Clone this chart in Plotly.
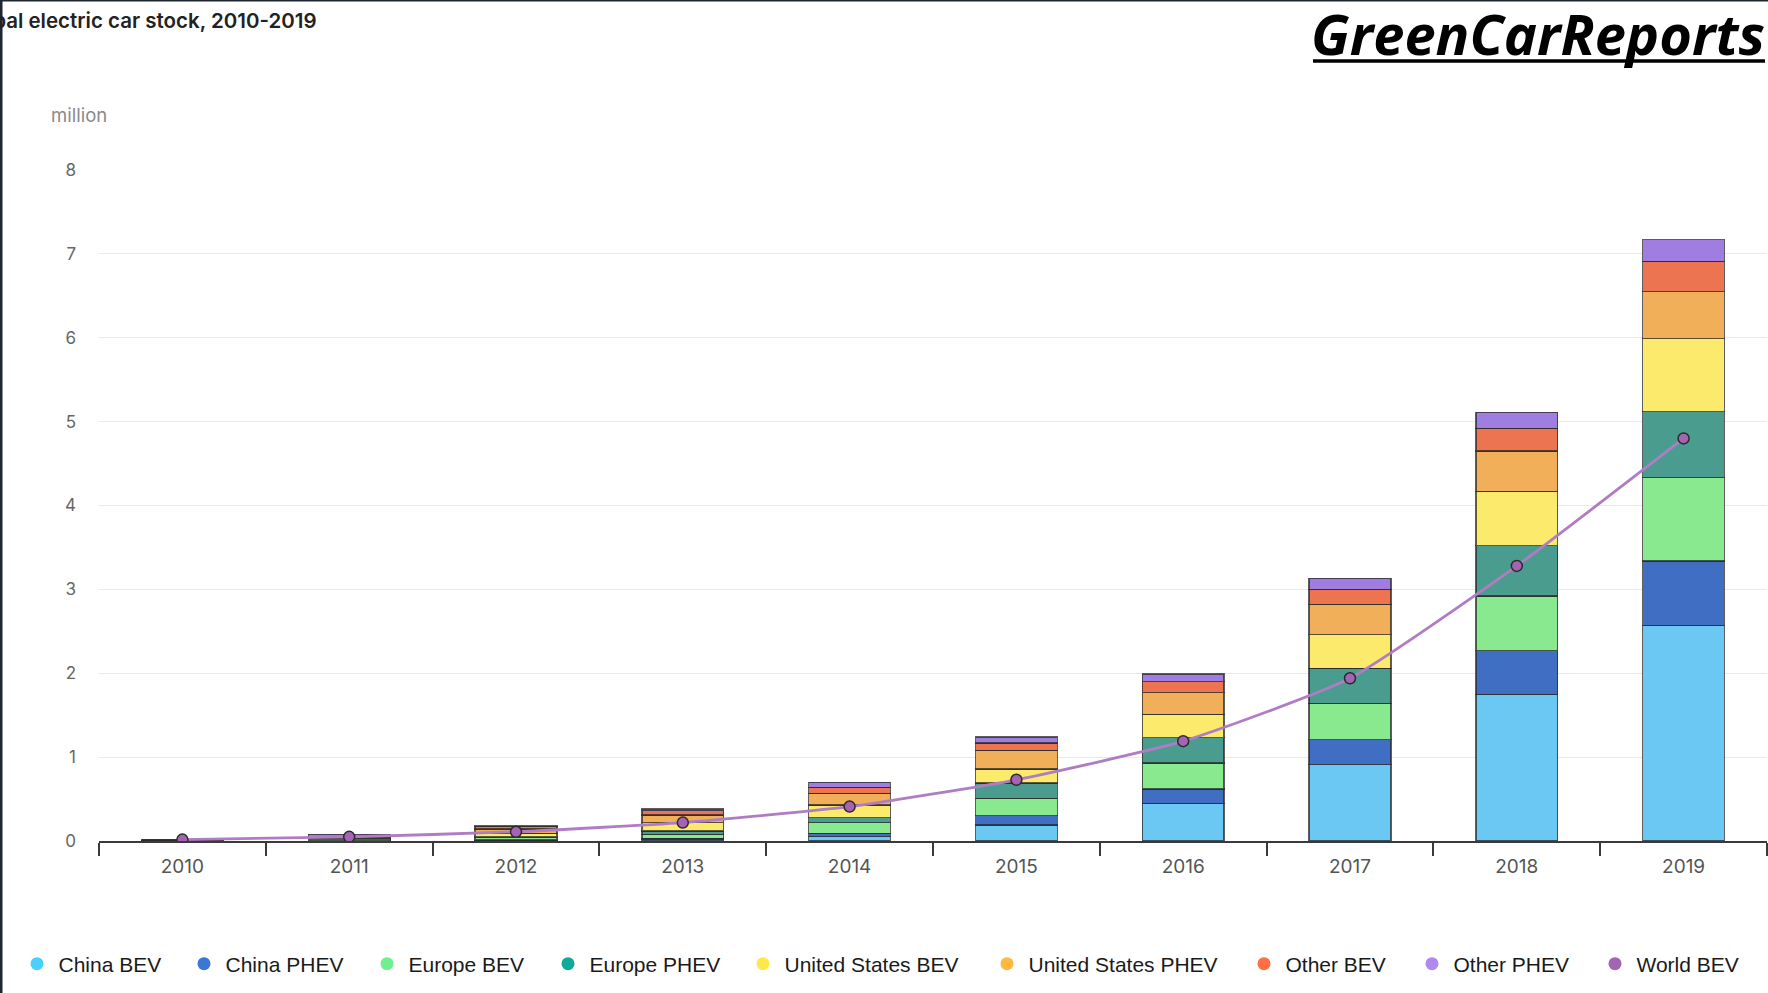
import plotly.graph_objects as go

# Global electric car stock by region and powertrain (million vehicles)
years = ["2010", "2011", "2012", "2013", "2014", "2015", "2016", "2017", "2018", "2019"]

china_bev = [0.002, 0.005, 0.01, 0.02, 0.05, 0.19, 0.45, 0.91, 1.75, 2.57]
china_phev = [0.0, 0.001, 0.003, 0.01, 0.04, 0.11, 0.17, 0.30, 0.52, 0.77]
europe_bev = [0.003, 0.01, 0.03, 0.05, 0.13, 0.21, 0.31, 0.43, 0.65, 0.99]
europe_phev = [0.0, 0.001, 0.01, 0.04, 0.06, 0.18, 0.30, 0.42, 0.60, 0.79]
us_bev = [0.003, 0.015, 0.04, 0.10, 0.15, 0.17, 0.28, 0.40, 0.65, 0.87]
us_phev = [0.0, 0.01, 0.05, 0.09, 0.14, 0.22, 0.26, 0.36, 0.48, 0.56]
other_bev = [0.008, 0.035, 0.03, 0.05, 0.07, 0.09, 0.13, 0.18, 0.27, 0.36]
other_phev = [0.0, 0.001, 0.01, 0.02, 0.06, 0.07, 0.09, 0.13, 0.19, 0.26]
world_bev = [0.017, 0.05, 0.11, 0.22, 0.41, 0.73, 1.19, 1.94, 3.28, 4.80]

series_names = ["China BEV", "China PHEV", "Europe BEV", "Europe PHEV",
                "United States BEV", "United States PHEV", "Other BEV", "Other PHEV"]
series_values = [china_bev, china_phev, europe_bev, europe_phev,
                 us_bev, us_phev, other_bev, other_phev]
bar_colors = ["#6AC8F2", "#3F6EC2", "#88E98F", "#4A9D8E",
              "#FCEA6C", "#F1AF5A", "#EC7450", "#A07DE0"]
legend_colors = ["#48D0FF", "#3A78D8", "#6EF08E", "#10AA9A",
                 "#FFE94A", "#FFB840", "#FF6E45", "#B088F0"]
world_name = "World BEV"
world_line_color = "#B07CC4"
world_marker_color = "#A563B3"

W, H = 1768, 993
L, R, T, B = 99, 1, 170, 152
pw, ph = W - L - R, H - T - B

# horizontal pixel centre of each legend dot along the bottom row
legend_dot_x = [37, 204, 387, 568, 763, 1007, 1264, 1432, 1615]
legend_item_w = 33


def px(x):
    return (x - L) / pw


def py(y):
    return (H - B - y) / ph


fig = go.Figure()

for name, vals, col in zip(series_names, series_values, bar_colors):
    fig.add_trace(go.Bar(
        x=years, y=vals, name=name, marker=dict(color=col, line=dict(color="rgba(40,40,40,0.75)", width=1.3)),
        showlegend=False, hoverinfo="skip",
    ))

fig.add_trace(go.Scatter(
    x=years, y=world_bev, name=world_name, mode="lines+markers",
    line=dict(color=world_line_color, width=2.8, shape="spline", smoothing=0.5),
    marker=dict(color=world_marker_color, size=11, line=dict(color="#2b2b2b", width=1.5)),
    showlegend=False, hoverinfo="skip",
))

# legend entries drawn as round dots, each in its own legend box
legend_layouts = {}
for i, (name, col) in enumerate(zip(series_names + [world_name], legend_colors + [world_marker_color])):
    key = "legend" if i == 0 else f"legend{i + 1}"
    fig.add_trace(go.Scatter(
        x=[None], y=[None], name=name, mode="markers",
        marker=dict(color=col, size=13, symbol="circle"), showlegend=True,
        legend=key,
    ))
    legend_layouts[key] = dict(
        orientation="h", x=px(legend_dot_x[i] - 5 - legend_item_w / 2), xanchor="left",
        y=py(964), yanchor="middle", bgcolor="rgba(0,0,0,0)",
        font=dict(family="Liberation Sans", size=21, color="#1a1a1a"),
        itemwidth=legend_item_w,
    )

fig.update_layout(
    width=W, height=H,
    margin=dict(l=L, r=R, t=T, b=B),
    paper_bgcolor="white", plot_bgcolor="white",
    barmode="stack", bargap=0.51,
    font=dict(family="Inter", color="#555555"),
    showlegend=True,
    xaxis=dict(
        type="category", range=[-0.5, 9.5], showgrid=False,
        showline=True, linecolor="#3a3a3a", linewidth=1.6,
        ticks="outside", tickson="boundaries", ticklen=13, tickwidth=1.6, tickcolor="#3a3a3a",
        tickfont=dict(family="Inter", size=19, color="#555555"),
        ticklabelstandoff=7, fixedrange=True,
    ),
    yaxis=dict(
        range=[0, 8], tickvals=[0, 1, 2, 3, 4, 5, 6, 7, 8],
        showgrid=True, gridcolor="#e9e9e9", gridwidth=1.2,
        zeroline=False, showline=False, ticks="",
        tickfont=dict(family="Inter", size=17, color="#666666"),
        ticklabelstandoff=22, fixedrange=True,
    ),
    **legend_layouts,
)

fig.add_annotation(
    xref="paper", yref="paper", x=px(319), y=py(20), xanchor="right", yanchor="middle",
    text="Global electric car stock, 2010-2019", showarrow=False,
    font=dict(family="Inter", size=20.5, color="#222222", weight=600),
)
fig.add_annotation(
    xref="paper", yref="paper", x=px(49), y=py(115), xanchor="left", yanchor="middle",
    text="million", showarrow=False,
    font=dict(family="Inter", size=18.5, color="#8a8a8a"),
)
fig.add_annotation(
    xref="paper", yref="paper", x=px(1767), y=py(33), xanchor="right", yanchor="middle",
    text="GreenCarReports", showarrow=False,
    font=dict(family="Open Sans", size=56, color="#000000", weight=700, style="italic"),
)

fig.add_shape(type="line", xref="paper", yref="paper",
              x0=px(1313), x1=px(1765), y0=py(61), y1=py(61),
              line=dict(color="#000000", width=3.5))
# frame edges along the top and left of the page
fig.add_shape(type="rect", xref="paper", yref="paper",
              x0=px(0), x1=px(2.5), y0=py(0), y1=py(H),
              line=dict(width=0), fillcolor="#1c2733")
fig.add_shape(type="rect", xref="paper", yref="paper",
              x0=px(0), x1=px(W), y0=py(0), y1=py(1.5),
              line=dict(width=0), fillcolor="#1c2733")

fig.write_html("out.html")
